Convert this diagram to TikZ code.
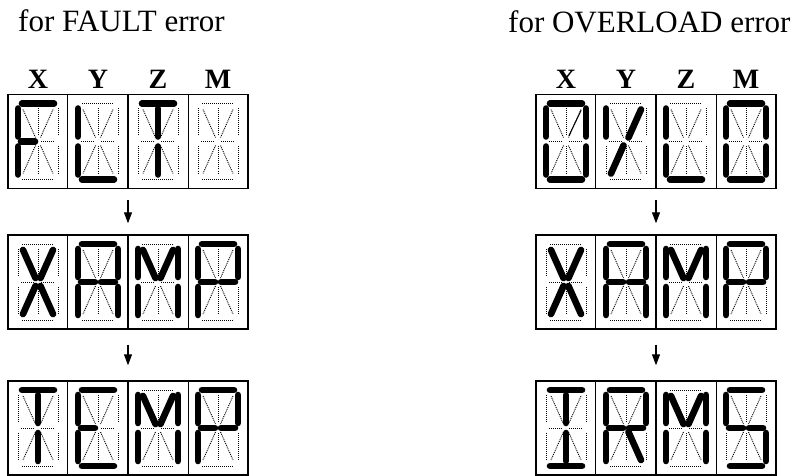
\documentclass[tikz,border=0pt]{standalone}
\usepackage{fontspec}
\setmainfont{Liberation Serif}
\usetikzlibrary{arrows.meta,calc}
\tikzset{
 offseg/.style={line width=0.9pt, dash pattern=on 1pt off 1pt, black},
 onseg/.style={line width=6.6pt, line cap=round, black},
 thinseg/.style={line width=1pt, line cap=round, black},
 rowbox/.style={draw, line width=1.4pt, minimum width=240pt, minimum height=94pt, inner sep=0pt},
 divider/.style={line width=1.4pt},
 arr/.style={line width=1.1pt, -{Triangle[length=11pt,width=8pt]}},
 title/.style={font=\fontsize{31}{36}\selectfont, anchor=base west, inner sep=0pt},
 collab/.style={font=\bfseries\fontsize{28}{32}\selectfont, anchor=base, inner sep=0pt},
}
% segment centre lines in cell coordinates (x right, y down)
\def\sga{14/9/46/9}
\def\sgb{50/14/50/42}
\def\sgc{50/52/50/80}
\def\sgd{14/85/46/85}
\def\sge{10/52/10/80}
\def\sgf{10/14/10/42}
\def\sgg{13/47/27/47}
\def\sgw{33/47/47/47}
\def\sgh{15/15/27.5/43}
\def\sgi{30/14/30/42}
\def\sgj{45/15/32.5/43}
\def\sgk{27.5/51/15/79}
\def\sgl{30/52/30/80}
\def\sgm{32.5/51/45/79}
\newcommand\digit[3]{%
 \begin{scope}[shift={(#1,#2)}]
  \foreach \s in {a,b,c,d,e,f,g,w,h,i,j,k,l,m}{%
   \edef\pts{\csname sg\s\endcsname}%
   \foreach \xa/\ya/\xb/\yb in \pts {\draw[offseg] (\xa,\ya) -- (\xb,\yb);}}
  \foreach \s in {#3}{%
   \ifcsname sg\s\endcsname
    \edef\pts{\csname sg\s\endcsname}%
    \foreach \xa/\ya/\xb/\yb in \pts {\draw[onseg] (\xa,\ya) -- (\xb,\yb);}%
   \fi}
 \end{scope}}
\begin{document}
\begin{tikzpicture}[x=1pt,y=-1pt]
\useasboundingbox (0,0) rectangle (806,476);
% titles
\node[title] (t1) at (18,32) {for FAULT error};
\node[title] (t2) at (508,33) {for OVERLOAD error};
% column labels
\foreach \lab [count=\n from 0] in {X,Y,Z,M}{
 \node[collab] (lx\n) at (38+60*\n,89) {\lab};
 \node[collab] (rx\n) at (566+60*\n,89) {\lab};
}
% row boxes
\node[rowbox] (L1) at (128,141.5) {};
\node[rowbox] (L2) at (128,282) {};
\node[rowbox] (L3) at (128,428) {};
\node[rowbox] (R1) at (656,141.5) {};
\node[rowbox] (R2) at (656,282) {};
\node[rowbox] (R3) at (656,428) {};
\foreach \r in {L1,L2,L3,R1,R2,R3}
 \foreach \f in {0.25,0.5,0.75}
  \draw[divider] ($(\r.north west)!\f!(\r.north east)$) -- ($(\r.south west)!\f!(\r.south east)$);
% arrows
\draw[arr, shorten <=11pt, shorten >=11pt] (L1.south) -- (L2.north);
\draw[arr, shorten <=15pt, shorten >=15pt] (L2.south) -- (L3.north);
\draw[arr, shorten <=11pt, shorten >=11pt] (R1.south) -- (R2.north);
\draw[arr, shorten <=15pt, shorten >=15pt] (R2.south) -- (R3.north);
% left: FLT_ / XAMP / TEMP
\digit{8}{94.5}{a,f,e,g}
\digit{68}{94.5}{f,e,d}
\digit{128}{94.5}{a,i,l}
\digit{188}{94.5}{}
\digit{8}{235}{h,j,k,m}
\digit{68}{235}{a,b,c,e,f,g,w}
\digit{128}{235}{f,e,b,c,h,j}
\digit{188}{235}{a,f,e,b,g,w}
\digit{8}{381}{a,i,l}
\digit{68}{381}{a,f,e,d,g}
\digit{128}{381}{f,e,b,c,h,j}
\digit{188}{381}{a,f,e,b,g,w}
% right: OVLD / XAMP / IRMS
\digit{536}{94.5}{a,b,c,d,e,f}
\draw[thinseg] (536+45,94.5+16) -- (536+33,94.5+41);
\digit{596}{94.5}{f,j,k}
\digit{656}{94.5}{f,e,d}
\digit{716}{94.5}{a,b,c,d,e,f}
\digit{536}{235}{h,j,k,m}
\digit{596}{235}{a,b,c,e,f,g,w}
\digit{656}{235}{f,e,b,c,h,j}
\digit{716}{235}{a,f,e,b,g,w}
\digit{536}{381}{a,d,i,l}
\digit{596}{381}{a,f,e,b,g,w,m}
\digit{656}{381}{f,e,b,c,h,j}
\digit{716}{381}{a,f,g,w,c,d}
\end{tikzpicture}
\end{document}
